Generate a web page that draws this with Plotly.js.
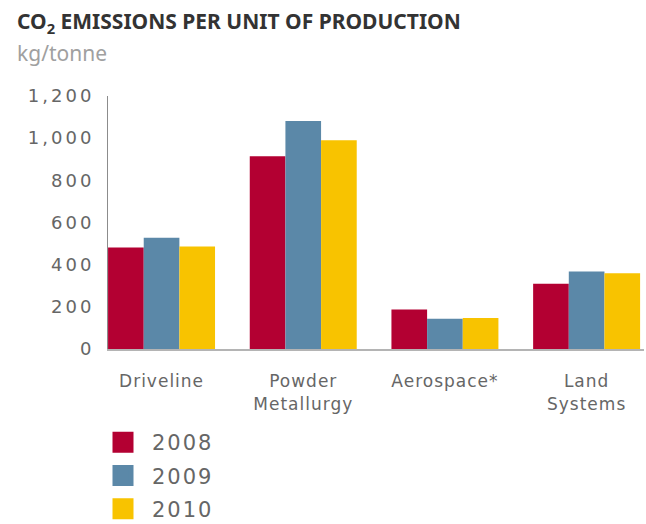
<!DOCTYPE html>
<html>
<head>
<meta charset="utf-8">
<script src="https://cdn.plot.ly/plotly-3.0.1.min.js"></script>
<style>
  html, body { margin: 0; padding: 0; background: #fff; }
  #chart { width: 646px; height: 524px; }
  #chart .ytick text { letter-spacing: 3px; }
  #chart .xtick text { letter-spacing: 1px; }
  #chart .legendtext { letter-spacing: 2px; }
</style>
</head>
<body>
<div id="chart"></div>
<script>
// ---- data ----
const categories = ["Driveline", "Powder<br>Metallurgy", "Aerospace*", "Land<br>Systems"];
const years = ["2008", "2009", "2010"];
const values2008 = [481, 914, 187, 309];
const values2009 = [528, 1081, 143, 367];
const values2010 = [486, 990, 147, 359];
const yTicks = [0, 200, 400, 600, 800, 1000, 1200];
const seriesValues = [values2008, values2009, values2010];

// ---- style ----
const colors = ["#b30032", "#5b88a8", "#f8c300"];
const textGray = "#666666";
const baseFont = "DejaVu Sans";

const W = 646, H = 524;
const M = { l: 108, r: 2, t: 96, b: 175 };
const plotW = W - M.l - M.r, plotH = H - M.t - M.b;
// helpers converting canvas pixels to paper coordinates (layout only)
const px = (x) => (x - M.l) / plotW;
const py = (y) => (H - M.b - y) / plotH;

const barTraces = years.map((yr, i) => ({
  type: "bar",
  name: yr,
  x: categories,
  y: seriesValues[i],
  marker: { color: colors[i], line: { width: 0 } },
  showlegend: false,
  hoverinfo: "x+y+name"
}));

// legend-only entries (larger square swatches)
const legendTraces = years.map((yr, i) => ({
  type: "scatter",
  mode: "markers",
  name: yr,
  x: [null],
  y: [null],
  legendgroup: "g" + i,
  marker: { symbol: "square", size: 16, color: colors[i], line: { width: 5, color: colors[i] } },
  showlegend: true,
  hoverinfo: "skip"
}));

const layout = {
  width: W,
  height: H,
  paper_bgcolor: "#ffffff",
  plot_bgcolor: "#ffffff",
  margin: { l: M.l, r: M.r, t: M.t, b: M.b, autoexpand: false },
  barmode: "group",
  bargap: 0.245,
  bargroupgap: 0,
  title: {
    text: "<b>CO<sub>2</sub> EMISSIONS PER UNIT OF PRODUCTION</b>",
    font: { family: "Noto Sans", size: 21, color: "#333333" },
    xref: "container", yref: "container",
    x: 17 / W, xanchor: "left",
    y: 1 - 22 / H, yanchor: "middle"
  },
  annotations: [{
    text: "kg/tonne",
    xref: "paper", yref: "paper",
    x: px(15), xanchor: "left",
    y: py(53), yanchor: "middle",
    showarrow: false,
    font: { family: "Noto Sans", size: 21, color: "#a0a0a0" }
  }],
  xaxis: {
    type: "category",
    range: [-0.378, 3.405],
    showline: true,
    linecolor: "#b4b4b4",
    linewidth: 2,
    showgrid: false,
    zeroline: false,
    ticks: "",
    ticklabelstandoff: 16,
    tickfont: { family: baseFont, size: 17, color: textGray },
    fixedrange: true
  },
  yaxis: {
    range: [0, 1200],
    tickvals: yTicks,
    tickformat: ",d",
    showline: true,
    linecolor: "#8c8c8c",
    linewidth: 1,
    showgrid: false,
    zeroline: false,
    ticks: "",
    ticklabelstandoff: 9,
    tickfont: { family: baseFont, size: 18, color: textGray },
    fixedrange: true
  },
  legend: {
    xref: "paper", yref: "paper",
    x: px(94), xanchor: "left",
    y: py(422), yanchor: "top",
    orientation: "v",
    traceorder: "grouped",
    tracegroupgap: 3,
    itemwidth: 48,
    font: { family: baseFont, size: 21, color: textGray },
    bgcolor: "rgba(0,0,0,0)",
    borderwidth: 0
  },
  showlegend: true
};

Plotly.newPlot("chart", barTraces.concat(legendTraces), layout, { displayModeBar: false, staticPlot: true });
</script>
</body>
</html>
